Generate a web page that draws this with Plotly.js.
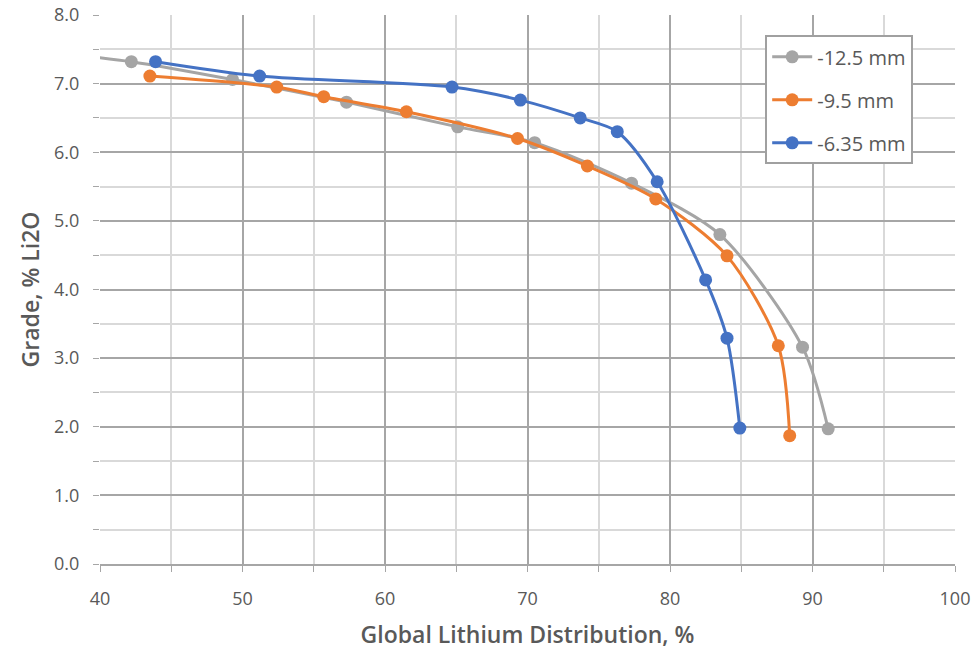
<!DOCTYPE html>
<html><head><meta charset="utf-8">
<script src="https://cdn.plot.ly/plotly-3.0.1.min.js"></script>
<style>body{margin:0;background:#fff}#c{width:976px;height:652px}</style>
</head><body><div id="c"></div>
<script>
const names = ["-12.5 mm", "-9.5 mm", "-6.35 mm"];
const colors = ["#A5A5A5", "#ED7D31", "#4472C4"];
const x125 = [36.0, 42.2, 49.3, 57.3, 65.1, 70.5, 77.3, 83.5, 89.3, 91.1];
const y125 = [7.47, 7.32, 7.06, 6.73, 6.37, 6.14, 5.55, 4.80, 3.16, 1.97];
const x95 = [43.5, 52.4, 55.7, 61.5, 69.3, 74.2, 79.0, 84.0, 87.6, 88.4];
const y95 = [7.11, 6.95, 6.81, 6.59, 6.20, 5.80, 5.32, 4.49, 3.18, 1.87];
const x635 = [43.9, 51.2, 64.7, 69.5, 73.7, 76.3, 79.1, 82.5, 84.0, 84.9];
const y635 = [7.32, 7.11, 6.95, 6.76, 6.50, 6.30, 5.57, 4.14, 3.29, 1.98];
const xs = [x125, x95, x635], ys = [y125, y95, y635];
const traces = names.map((n, i) => ({
  x: xs[i], y: ys[i], name: n, type: 'scatter', mode: 'lines+markers', legendgroup: 'g' + i,
  line: {color: colors[i], width: 3, shape: 'spline', smoothing: 0.8},
  marker: {color: colors[i], size: 13}
}));
const tickFont = {family: 'Open Sans, sans-serif', size: 18, color: '#595959'};
const titleFont = {family: 'Open Sans, sans-serif', size: 23, color: '#595959', weight: 600};
const layout = {
  width: 976, height: 652,
  margin: {l: 100, r: 21, t: 15, b: 88},
  paper_bgcolor: '#fff', plot_bgcolor: '#fff',
  showlegend: true,
  legend: {x: 0.778, y: 0.963, xanchor: 'left', yanchor: 'top', bordercolor: '#A0A0A0', borderwidth: 2,
    bgcolor: '#fff', font: {family: 'Open Sans, sans-serif', size: 20, color: '#595959'}, tracegroupgap: 14,
    itemwidth: 40},
  xaxis: {range: [40, 100], dtick: 10, showgrid: true, gridcolor: '#A6A6A6', gridwidth: 2,
    minor: {dtick: 5, showgrid: true, gridcolor: '#D9D9D9', gridwidth: 2, ticks: 'outside', ticklen: 6, tickcolor: '#A6A6A6'},
    ticks: 'outside', ticklen: 6, tickcolor: '#A6A6A6', showline: true, linecolor: '#A6A6A6', linewidth: 2,
    zeroline: false, tickfont: tickFont, ticklabelstandoff: 11,
    title: {text: 'Global Lithium Distribution, %', font: titleFont, standoff: 18}},
  yaxis: {range: [0, 8], dtick: 1, tickformat: '.1f', showgrid: true, gridcolor: '#A6A6A6', gridwidth: 2,
    minor: {dtick: 0.5, showgrid: true, gridcolor: '#D9D9D9', gridwidth: 2, ticks: 'outside', ticklen: 6, tickcolor: '#A6A6A6'},
    ticks: 'outside', ticklen: 6, tickcolor: '#A6A6A6', showline: false, zeroline: false, tickfont: tickFont,
    ticklabelstandoff: 10,
    title: {text: 'Grade, % Li2O', font: titleFont, standoff: 8}}
};
Plotly.newPlot('c', traces, layout, {displayModeBar: false});
</script></body></html>
